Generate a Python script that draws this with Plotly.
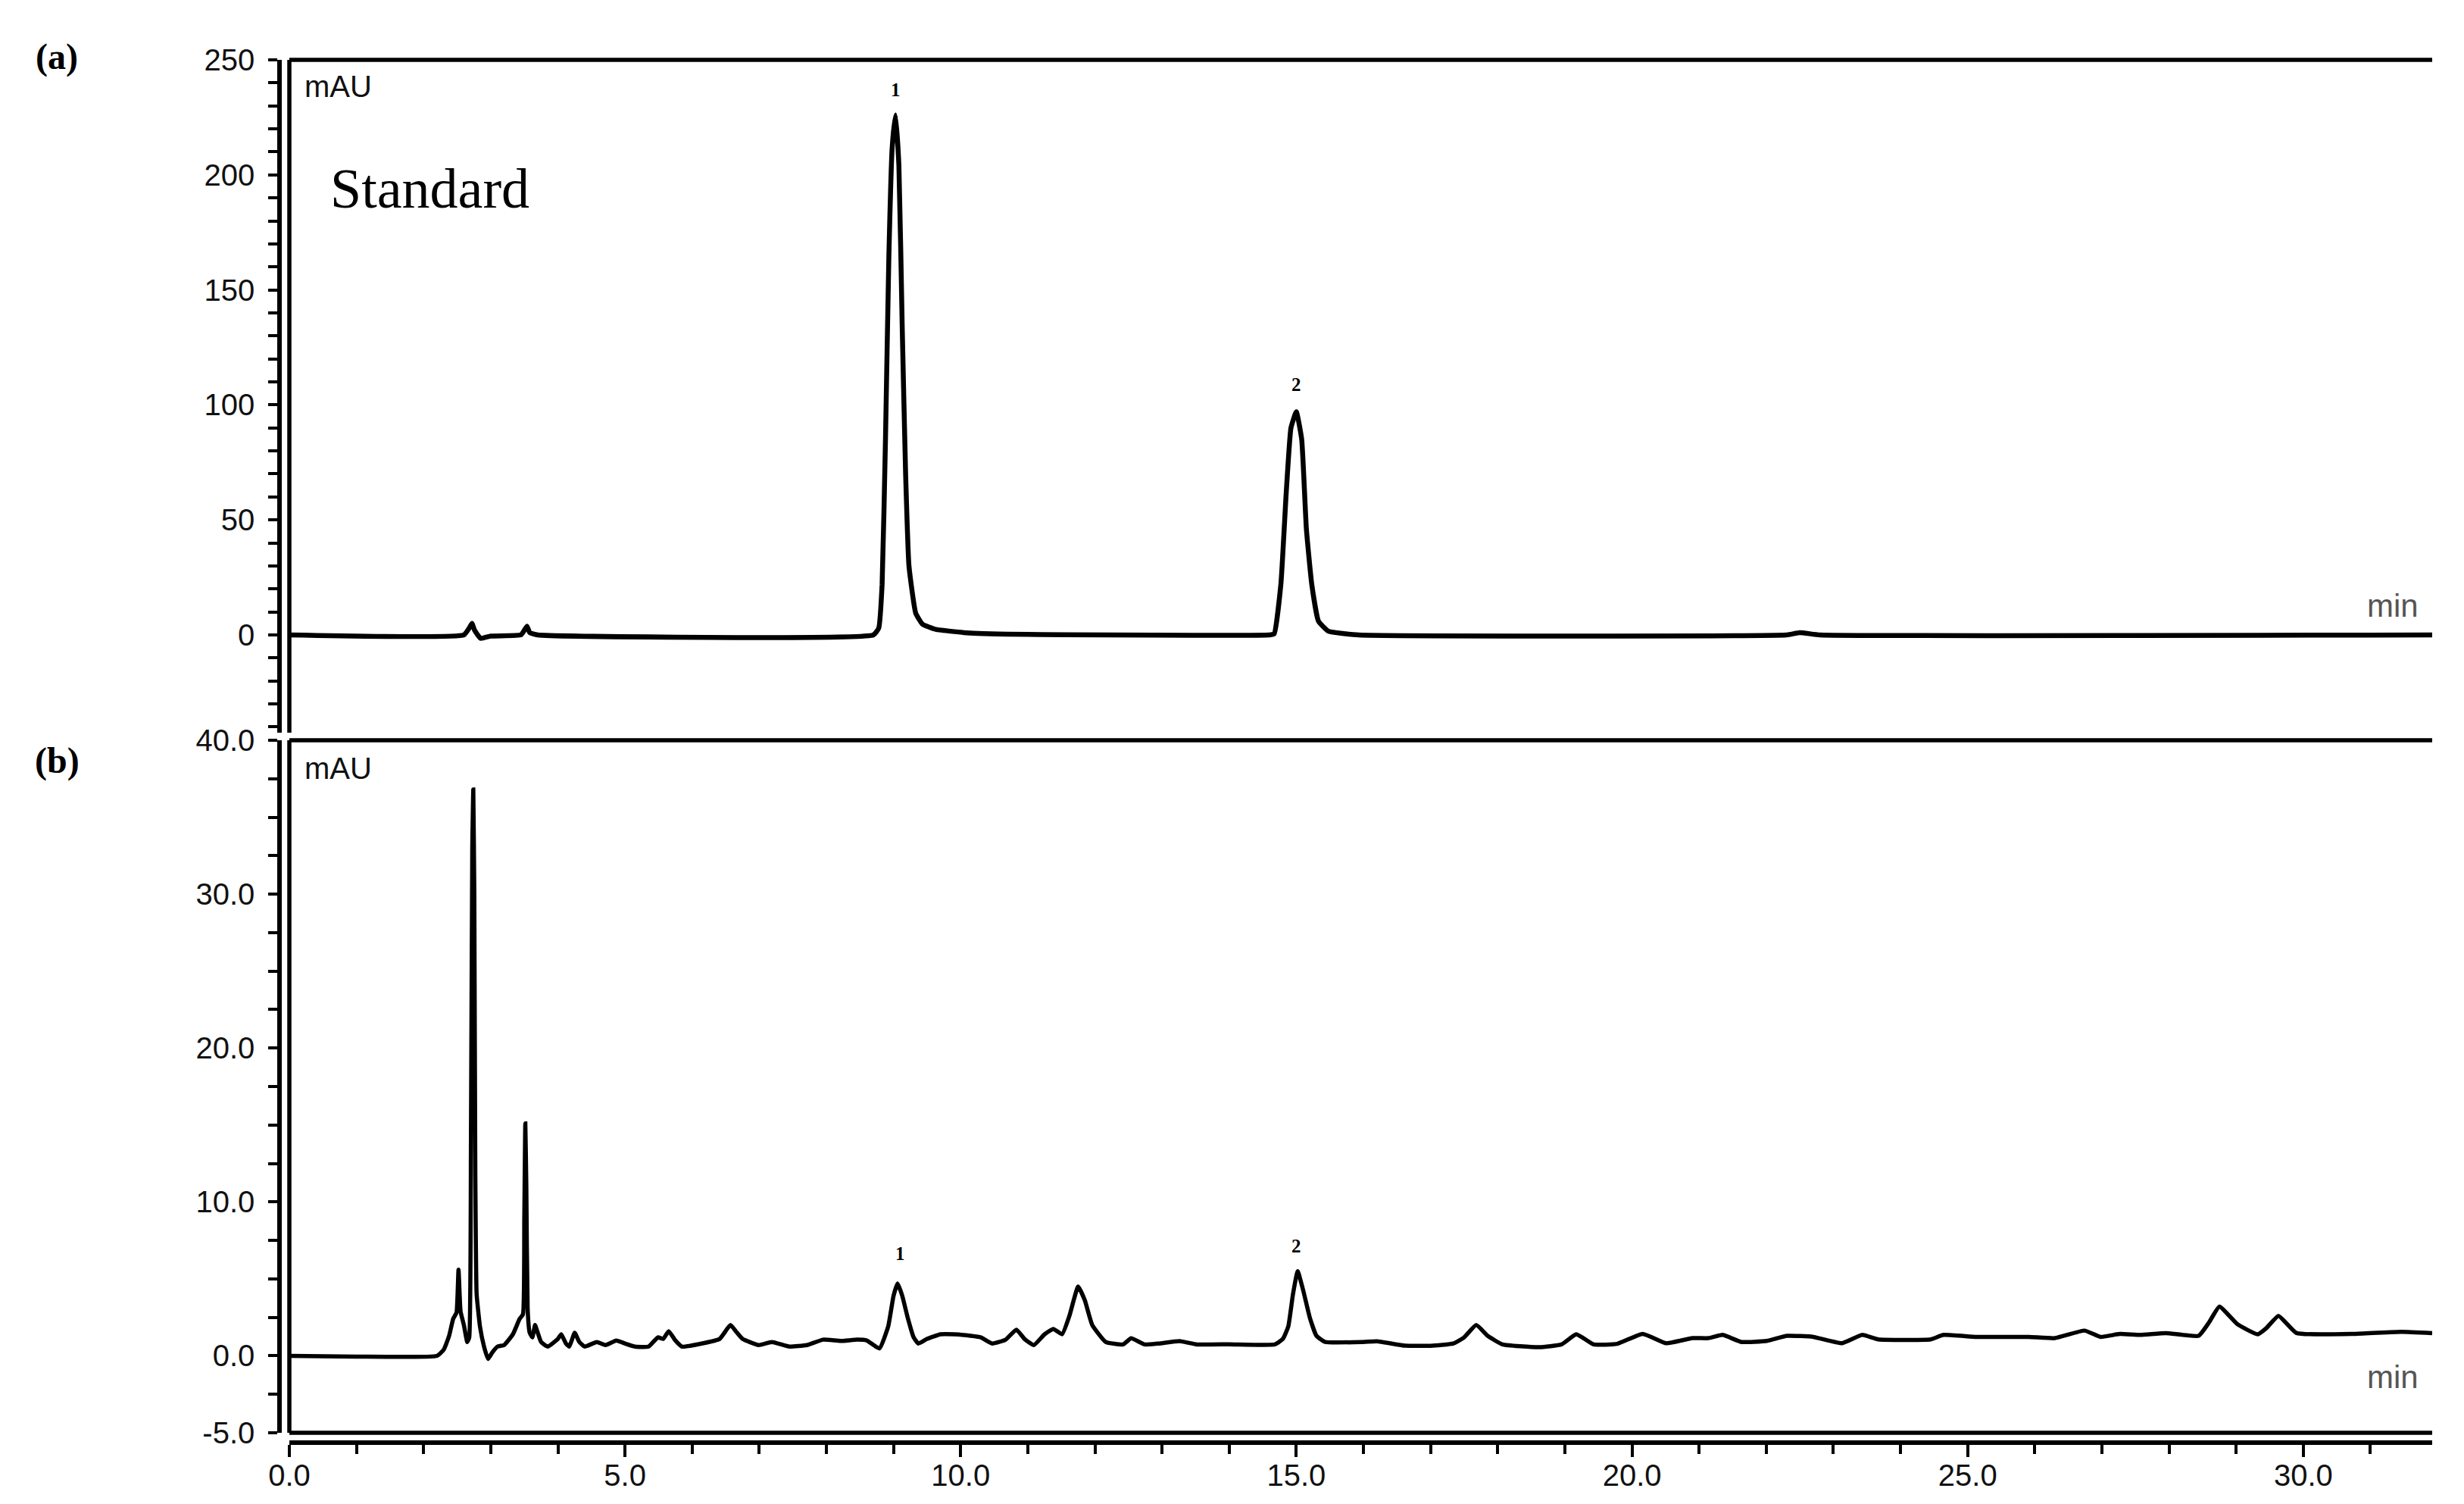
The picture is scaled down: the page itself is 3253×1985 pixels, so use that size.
import plotly.graph_objects as go

# ---------------- data ----------------
std_time = [0.0, 2.60, 2.68, 2.72, 2.76, 2.85, 3.00, 3.45, 3.50, 3.54, 3.58, 3.70,
            8.70, 8.78, 8.83, 8.88, 8.93, 8.98, 9.03, 9.08, 9.13, 9.18, 9.23, 9.33,
            9.43, 9.63, 10.14, 11.0, 14.60, 14.67, 14.77, 14.85, 14.92, 15.00, 15.08,
            15.15, 15.23, 15.33, 15.48, 15.93, 22.30, 22.50, 22.80, 31.92]
std_mau = [0, 0, 3, 5, 2, -1.5, -0.5, 0, 2, 3.8, 1, 0,
           0, 3, 22, 85, 164, 212, 226, 204, 133, 70, 30, 9.5,
           4.7, 2.4, 0.8, 0.2, 0, 0.5, 22, 62, 90, 97, 85,
           46, 22, 6, 1.6, 0, 0, 1, 0, 0]

sample_time = [0.00, 1.00, 2.20, 2.30, 2.38, 2.44, 2.49, 2.52, 2.55, 2.60, 2.65, 2.68,
               2.705, 2.725, 2.74, 2.755, 2.77, 2.79, 2.84, 2.90, 2.96, 3.02, 3.10, 3.20,
               3.33, 3.43, 3.48, 3.50, 3.515, 3.53, 3.55, 3.58, 3.62, 3.66, 3.70, 3.75,
               3.85, 4.00, 4.05, 4.12, 4.17, 4.25, 4.32, 4.40, 4.58, 4.71, 4.87, 5.00,
               5.15, 5.35, 5.49, 5.57, 5.65, 5.75, 5.85, 6.14, 6.41, 6.57, 6.65, 6.75,
               6.99, 7.19, 7.45, 7.71, 7.95, 8.21, 8.46, 8.60, 8.79, 8.92, 9.00, 9.06,
               9.13, 9.21, 9.30, 9.37, 9.50, 9.70, 9.90, 10.15, 10.30, 10.47, 10.67, 10.83,
               10.95, 11.09, 11.25, 11.38, 11.51, 11.62, 11.75, 11.85, 11.96, 12.16, 12.42, 12.54,
               12.74, 12.95, 13.26, 13.52, 14.00, 14.68, 14.80, 14.88, 14.95, 15.02, 15.10, 15.20,
               15.30, 15.43, 15.98, 16.20, 16.62, 17.00, 17.34, 17.50, 17.68, 17.85, 18.07, 18.61,
               18.95, 19.17, 19.43, 19.78, 20.16, 20.51, 20.90, 21.14, 21.35, 21.63, 22.01, 22.31,
               22.70, 23.13, 23.43, 23.67, 24.45, 24.64, 25.13, 25.91, 26.30, 26.74, 26.98, 27.27,
               27.57, 27.95, 28.44, 28.60, 28.75, 29.02, 29.32, 29.45, 29.63, 29.90, 30.78, 31.46,
               31.92]
sample_mau = [0.0, -0.05, 0.0, 0.4, 1.3, 2.4, 2.8, 5.6, 2.9, 2.0, 0.9, 1.2,
              14, 33, 36.8, 30, 12, 4.0, 1.9, 0.6, -0.2, 0.2, 0.6, 0.7,
              1.4, 2.4, 2.7, 9, 15.1, 11, 3, 1.5, 1.2, 2.0, 1.5, 0.9,
              0.6, 1.1, 1.4, 0.8, 0.6, 1.5, 0.9, 0.6, 0.9, 0.7, 1.0, 0.8,
              0.6, 0.6, 1.2, 1.1, 1.6, 1.0, 0.6, 0.8, 1.1, 2.0, 1.6, 1.1,
              0.7, 0.9, 0.6, 0.7, 1.05, 0.97, 1.05, 1.0, 0.48, 1.9, 3.9, 4.7,
              3.9, 2.5, 1.2, 0.8, 1.1, 1.4, 1.4, 1.3, 1.2, 0.8, 1.05, 1.7,
              1.1, 0.7, 1.4, 1.75, 1.4, 2.6, 4.5, 3.6, 2.0, 0.9, 0.74, 1.14,
              0.74, 0.8, 0.96, 0.74, 0.75, 0.74, 1.1, 1.9, 4.0, 5.5, 4.3, 2.5,
              1.3, 0.9, 0.9, 0.95, 0.66, 0.65, 0.8, 1.2, 2.0, 1.3, 0.74, 0.56,
              0.74, 1.4, 0.74, 0.78, 1.43, 0.82, 1.15, 1.15, 1.36, 0.9, 0.97, 1.3,
              1.23, 0.82, 1.36, 1.07, 1.07, 1.36, 1.23, 1.23, 1.15, 1.64, 1.23, 1.43,
              1.36, 1.48, 1.3, 2.2, 3.2, 2.05, 1.4, 1.8, 2.6, 1.48, 1.43, 1.56,
              1.48]

peak_labels = ["1", "2"]
std_peak_time = [9.03, 15.0]
std_label_mau = [237, 109]
sample_peak_time = [9.1, 15.0]
sample_label_mau = [6.66, 7.15]

x_tickvals = [0, 5, 10, 15, 20, 25, 30]
x_ticktext = ["0.0", "5.0", "10.0", "15.0", "20.0", "25.0", "30.0"]
x_minor = list(range(0, 33))
ya_tickvals = [0, 50, 100, 150, 200, 250]
ya_ticktext = ["0", "50", "100", "150", "200", "250"]
ya_minor = list(range(-40, 251, 10))
yb_tickvals = [-5, 0, 10, 20, 30, 40]
yb_ticktext = ["-5.0", "0.0", "10.0", "20.0", "30.0", "40.0"]
yb_minor = [v * 2.5 for v in range(-2, 17)]

# page has an 8px body margin; the figure is sized to fit inside it
PAGE_W, PAGE_H = 3253, 1985
OFF = 8
W, H = PAGE_W - 2 * OFF, PAGE_H - 2 * OFF


def PX(x):
    return (x - OFF) / W


def PY(y):
    return 1 - (y - OFF) / H


XD = [PX(382), PX(3211)]
YA = [PY(967), PY(79)]
YB = [PY(1891), PY(977)]
AXPOS = PX(369)
LW = 5.5
TICKFONT = dict(family="Liberation Sans, Arial, sans-serif", size=40, color="#111111")

fig = go.Figure()
fig.add_trace(go.Scatter(x=std_time, y=std_mau, mode="lines",
                         line=dict(color="black", width=6.5, shape="spline", smoothing=0.4),
                         xaxis="x", yaxis="y", showlegend=False, hoverinfo="skip"))
fig.add_trace(go.Scatter(x=sample_time, y=sample_mau, mode="lines",
                         line=dict(color="black", width=5.5, shape="spline", smoothing=0.4),
                         xaxis="x2", yaxis="y2", showlegend=False, hoverinfo="skip"))

common_y = dict(showline=True, linecolor="black", linewidth=LW, ticks="outside",
                ticklen=12, tickwidth=3.5, tickcolor="black", showgrid=False,
                zeroline=False, anchor="free", position=AXPOS, tickfont=TICKFONT,
                ticklabelstandoff=10, fixedrange=True, automargin=False)

fig.update_layout(
    template="none",
    width=W, height=H, margin=dict(l=0, r=0, t=0, b=0, pad=0, autoexpand=False),
    paper_bgcolor="white", plot_bgcolor="white",
    xaxis=dict(domain=XD, range=[0, 31.92], visible=False, anchor="y", fixedrange=True,
               automargin=False),
    yaxis=dict(domain=YA, range=[-42.5, 250], tickmode="array", tickvals=ya_tickvals,
               ticktext=ya_ticktext,
               minor=dict(tickvals=ya_minor, ticklen=12, tickwidth=3.5, tickcolor="black",
                          ticks="outside", showgrid=False),
               **common_y),
    xaxis2=dict(domain=XD, range=[0, 31.92], anchor="free", position=PY(1904),
                showline=True, linecolor="black", linewidth=LW, ticks="outside",
                ticklen=16, tickwidth=3.5, tickcolor="black", showgrid=False, zeroline=False,
                tickmode="array", tickvals=x_tickvals, ticktext=x_ticktext,
                minor=dict(tickvals=x_minor, ticklen=12, tickwidth=3.5, tickcolor="black",
                           ticks="outside", showgrid=False),
                tickfont=dict(family="Liberation Sans, Arial, sans-serif", size=40,
                              color="#111111"),
                ticklabelstandoff=-10, fixedrange=True, automargin=False),
    yaxis2=dict(domain=YB, range=[-5, 40], tickmode="array", tickvals=yb_tickvals,
                ticktext=yb_ticktext,
                minor=dict(tickvals=yb_minor, ticklen=12, tickwidth=3.5, tickcolor="black",
                           ticks="outside", showgrid=False),
                **common_y),
)

# frame lines
frame = dict(color="black", width=LW)
shapes = [
    dict(type="line", xref="x domain", yref="y domain", x0=0, x1=1, y0=1, y1=1, line=frame),
    dict(type="line", xref="x domain", yref="y domain", x0=0, x1=0, y0=0, y1=1, line=frame),
    dict(type="line", xref="x2 domain", yref="y2 domain", x0=0, x1=1, y0=1, y1=1, line=frame),
    dict(type="line", xref="x2 domain", yref="y2 domain", x0=0, x1=0, y0=0, y1=1, line=frame),
    dict(type="line", xref="x2 domain", yref="y2 domain", x0=0, x1=1, y0=0, y1=0, line=frame),
]
fig.update_layout(shapes=shapes)

ann = []
serif = "Liberation Serif, Times New Roman, serif"
sans = "Liberation Sans, Arial, sans-serif"
for lab, t, v in zip(peak_labels, std_peak_time, std_label_mau):
    ann.append(dict(x=t, y=v, xref="x", yref="y", text="<b>" + lab + "</b>", showarrow=False,
                    font=dict(family=serif, size=25, color="black")))
for lab, t, v in zip(peak_labels, sample_peak_time, sample_label_mau):
    ann.append(dict(x=t, y=v, xref="x2", yref="y2", text="<b>" + lab + "</b>", showarrow=False,
                    font=dict(family=serif, size=25, color="black")))
ann += [
    dict(x=PX(400), y=PY(114), xref="paper", yref="paper", text="mAU", showarrow=False,
         xanchor="left", yanchor="middle", font=dict(family=sans, size=40, color="#111111")),
    dict(x=PX(400), y=PY(1014), xref="paper", yref="paper", text="mAU", showarrow=False,
         xanchor="left", yanchor="middle", font=dict(family=sans, size=40, color="#111111")),
    dict(x=PX(3195), y=PY(799), xref="paper", yref="paper", text="min", showarrow=False,
         xanchor="right", yanchor="middle", font=dict(family=sans, size=42, color="#555555")),
    dict(x=PX(3195), y=PY(1817), xref="paper", yref="paper", text="min", showarrow=False,
         xanchor="right", yanchor="middle", font=dict(family=sans, size=42, color="#555555")),
    dict(x=PX(567), y=PY(249), xref="paper", yref="paper", text="Standard", showarrow=False,
         xanchor="center", yanchor="middle", font=dict(family=serif, size=74, color="black")),
    dict(x=PX(75), y=PY(75), xref="paper", yref="paper", text="<b>(a)</b>", showarrow=False,
         xanchor="center", yanchor="middle", font=dict(family=serif, size=48, color="black")),
    dict(x=PX(75), y=PY(1004), xref="paper", yref="paper", text="<b>(b)</b>", showarrow=False,
         xanchor="center", yanchor="middle", font=dict(family=serif, size=48, color="black")),
]
fig.update_layout(annotations=ann)

fig.write_html("out.html", config={"displayModeBar": False})
